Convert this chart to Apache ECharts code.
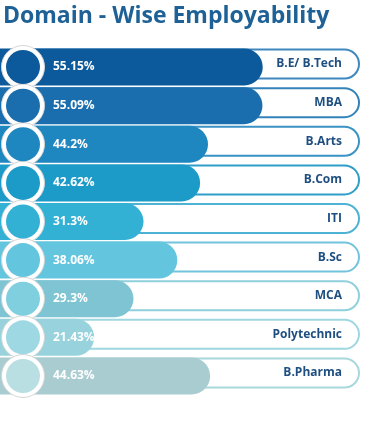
<!DOCTYPE html>
<html>
<head>
<meta charset="utf-8">
<script src="https://cdn.jsdelivr.net/npm/echarts@6/dist/echarts.min.js"></script>
<style>html,body{margin:0;padding:0;background:#fff}#c{width:370px;height:427px}</style>
</head>
<body>
<div id="c"></div>
<script>
const categories = ['B.E/ B.Tech','MBA','B.Arts','B.Com','ITI','B.Sc','MCA','Polytechnic','B.Pharma'];
const employability = [55.15,55.09,44.2,42.62,31.3,38.06,29.3,21.43,44.63];

const barColors = ['#0c5a9c','#1a6eae','#1f87bf','#1d9bc8','#33b1d5','#64c5df','#7ec4d2','#98d2dd','#a9ccd1'];
const dotColors = ['#0c5a9c','#1a6eae','#1f87bf','#1d9bc8','#33b1d5','#64c5df','#7fcfdf','#9dd8e3','#b9dfe2'];
const trackColors = ['#3f88bf','#3382b9','#3a93c4','#2f9dc8','#4cb3d4','#72c4de','#8fd0dc','#9fd7e1','#a9d8dc'];

const AX_MIN = 2.6;
const AX_MAX = 74.6;
const DOT_X = 7.2;

const chart = echarts.init(document.getElementById('c'), null, {renderer:'canvas'});
chart.setOption({
  animation:false,
  title:{text:'Domain - Wise Employability',left:3,top:5,padding:0,
    textStyle:{fontFamily:'Open Sans',fontWeight:'bold',fontSize:23,color:'#1d6196'}},
  grid:{left:0,right:10,top:47.7,bottom:31.7},
  xAxis:{type:'value',min:AX_MIN,max:AX_MAX,show:false},
  yAxis:{type:'category',data:categories,inverse:true,show:false},
  series:[
    {type:'bar',barWidth:31,barGap:'-100%',silent:true,z:2,
     data:categories.map((c,i)=>({value:AX_MAX,itemStyle:{color:'#fff',borderColor:trackColors[i],borderWidth:2,borderRadius:16},
       label:{show:true,position:'insideRight',distance:18,formatter:c,color:'#1f4f80',fontFamily:'Open Sans',fontWeight:'bold',fontSize:12}}))},
    {type:'bar',barWidth:37,z:3,
     data:employability.map((v,i)=>({value:v,itemStyle:{color:barColors[i],borderRadius:[0,19,19,0]}})),
     label:{show:true,position:'insideLeft',distance:53,overflow:'none',formatter:p=>p.value+'%',color:'#fff',fontFamily:'Open Sans',fontWeight:'bold',fontSize:12}},
    {type:'scatter',z:4,symbolSize:43,silent:true,
     data:categories.map(c=>[DOT_X,c]),
     itemStyle:{color:'#fff',borderColor:'#d6d6d6',borderWidth:1,opacity:1}},
    {type:'scatter',z:5,symbolSize:34,silent:true,
     data:categories.map((c,i)=>({value:[DOT_X,c],itemStyle:{color:dotColors[i],opacity:1}}))}
  ]
});
</script>
</body>
</html>
